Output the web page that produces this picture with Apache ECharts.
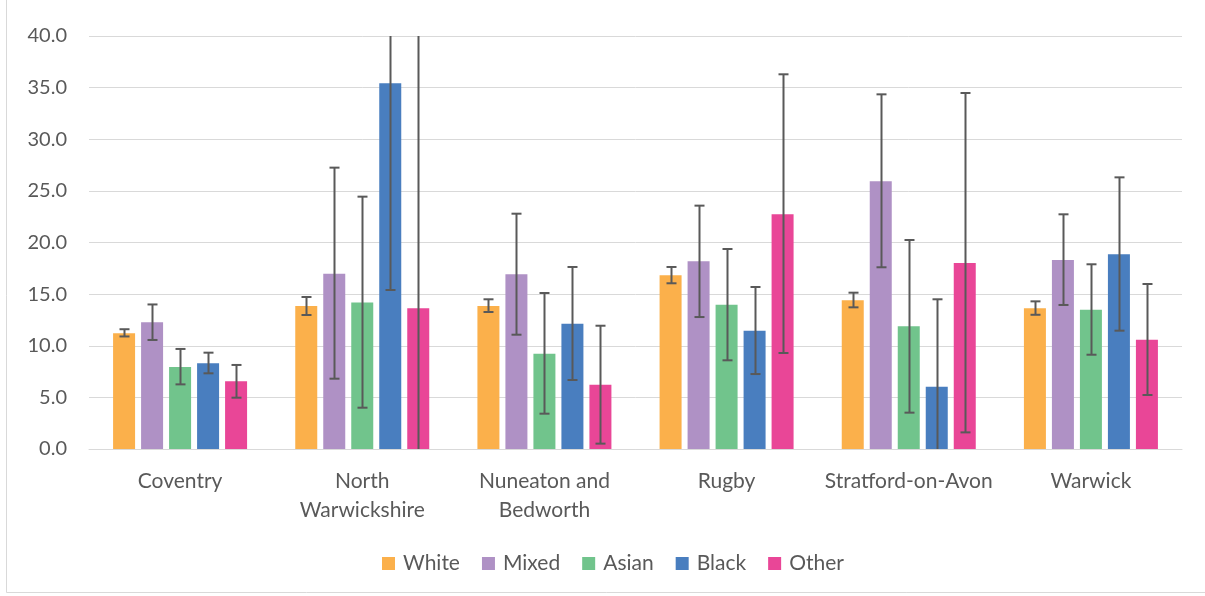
<!DOCTYPE html>
<html>
<head>
<meta charset="utf-8">
<script src="https://cdn.jsdelivr.net/npm/echarts@6/dist/echarts.min.js"></script>
<style>
html,body{margin:0;padding:0;background:#fff;}
#chart{width:1205px;height:596px;}
</style>
</head>
<body>
<div id="chart"></div>
<script>
const categories = ['Coventry', 'North\nWarwickshire', 'Nuneaton and\nBedworth', 'Rugby', 'Stratford-on-Avon', 'Warwick'];
const seriesNames = ['White', 'Mixed', 'Asian', 'Black', 'Other'];
const colors = ['#FBB04B', '#AF91C5', '#71C48C', '#497EBF', '#E94697'];

const white = [11.2, 13.85, 13.85, 16.82, 14.4, 13.62];
const mixed = [12.27, 16.98, 16.92, 18.18, 25.93, 18.3];
const asian = [7.94, 14.2, 9.23, 13.98, 11.88, 13.49];
const black = [8.3, 35.42, 12.14, 11.46, 6.04, 18.85];
const other = [6.56, 13.62, 6.23, 22.73, 18.01, 10.59];

const whiteLow = [10.9, 12.98, 13.27, 16.05, 13.72, 13.0];
const whiteHigh = [11.6, 14.72, 14.5, 17.63, 15.14, 14.3];
const mixedLow = [10.56, 6.81, 11.07, 12.78, 17.6, 13.95];
const mixedHigh = [14.0, 27.25, 22.79, 23.57, 34.35, 22.73];
const asianLow = [6.26, 4.0, 3.42, 8.59, 3.52, 9.13];
const asianHigh = [9.69, 24.44, 15.11, 19.37, 20.24, 17.89];
const blackLow = [7.33, 15.4, 6.68, 7.26, -2.4, 11.46];
const blackHigh = [9.33, 55.4, 17.63, 15.69, 14.5, 26.31];
const otherLow = [4.97, -16.0, 0.52, 9.3, 1.61, 5.23];
const otherHigh = [8.14, 43.2, 11.94, 36.29, 34.48, 15.98];

const yTicks = [0, 5, 10, 15, 20, 25, 30, 35, 40];

const values = [white, mixed, asian, black, other];
const lows = [whiteLow, mixedLow, asianLow, blackLow, otherLow];
const highs = [whiteHigh, mixedHigh, asianHigh, blackHigh, otherHigh];

const BAR_W = 22, BAR_GAP = 6;
const Y_MIN = yTicks[0], Y_MAX = yTicks[yTicks.length - 1];
const FONT = 'Lato, "Open Sans", sans-serif';

const series = [];
seriesNames.forEach((name, i) => {
  series.push({
    name: name,
    type: 'bar',
    data: values[i],
    barWidth: BAR_W,
    barGap: (BAR_GAP / BAR_W * 100) + '%',
    itemStyle: { color: colors[i] }
  });
});
seriesNames.forEach((name, i) => {
  series.push({
    type: 'custom',
    name: name + ' error',
    silent: true,
    z: 10,
    data: categories.map((c, k) => [k, lows[i][k], highs[i][k]]),
    renderItem: function (params, api) {
      const k = api.value(0);
      let lo = api.value(1), hi = api.value(2);
      const loCap = lo >= Y_MIN, hiCap = hi <= Y_MAX;
      lo = Math.max(lo, Y_MIN); hi = Math.min(hi, Y_MAX);
      const pLo = api.coord([k, lo]);
      const pHi = api.coord([k, hi]);
      const x = Math.round(pLo[0] + (i - 2) * (BAR_W + BAR_GAP)) + 0.5;
      const capHalf = 5;
      const style = { stroke: '#595959', lineWidth: 2 };
      const children = [{ type: 'line', shape: { x1: x, y1: pLo[1], x2: x, y2: pHi[1] }, style: style }];
      if (loCap) children.push({ type: 'line', shape: { x1: x - capHalf, y1: pLo[1], x2: x + capHalf, y2: pLo[1] }, style: style });
      if (hiCap) children.push({ type: 'line', shape: { x1: x - capHalf, y1: pHi[1], x2: x + capHalf, y2: pHi[1] }, style: style });
      return { type: 'group', children: children };
    }
  });
});

const chart = echarts.init(document.getElementById('chart'), null, { renderer: 'canvas' });
chart.setOption({
  animation: false,
  backgroundColor: '#fff',
  textStyle: { fontFamily: FONT },
  grid: { left: 89, right: 23, top: 36, bottom: 147, containLabel: false },
  legend: {
    data: seriesNames,
    bottom: 17,
    left: 377,
    itemWidth: 13,
    itemHeight: 13,
    itemGap: 22,
    icon: 'rect',
    textStyle: { fontSize: 21, color: '#595959', fontFamily: FONT, padding: [0, 0, 0, 3] }
  },
  xAxis: {
    type: 'category',
    data: categories,
    axisLine: { lineStyle: { color: '#D9D9D9', width: 1 } },
    axisTick: { show: false },
    axisLabel: { fontSize: 21, color: '#595959', lineHeight: 29, margin: 18, interval: 0, fontFamily: FONT }
  },
  yAxis: {
    type: 'value',
    min: Y_MIN,
    max: Y_MAX,
    interval: yTicks[1] - yTicks[0],
    axisLine: { show: false },
    axisTick: { show: false },
    splitLine: { lineStyle: { color: '#D9D9D9', width: 1 } },
    axisLabel: { fontSize: 20, color: '#595959', margin: 22, formatter: v => v.toFixed(1), fontFamily: FONT }
  },
  graphic: [{
    type: 'rect',
    silent: true,
    shape: { x: 6.5, y: -5, width: 1210, height: 597.5 },
    style: { fill: 'none', stroke: '#D9D9D9', lineWidth: 1 }
  }],
  series: series
});
</script>
</body>
</html>
